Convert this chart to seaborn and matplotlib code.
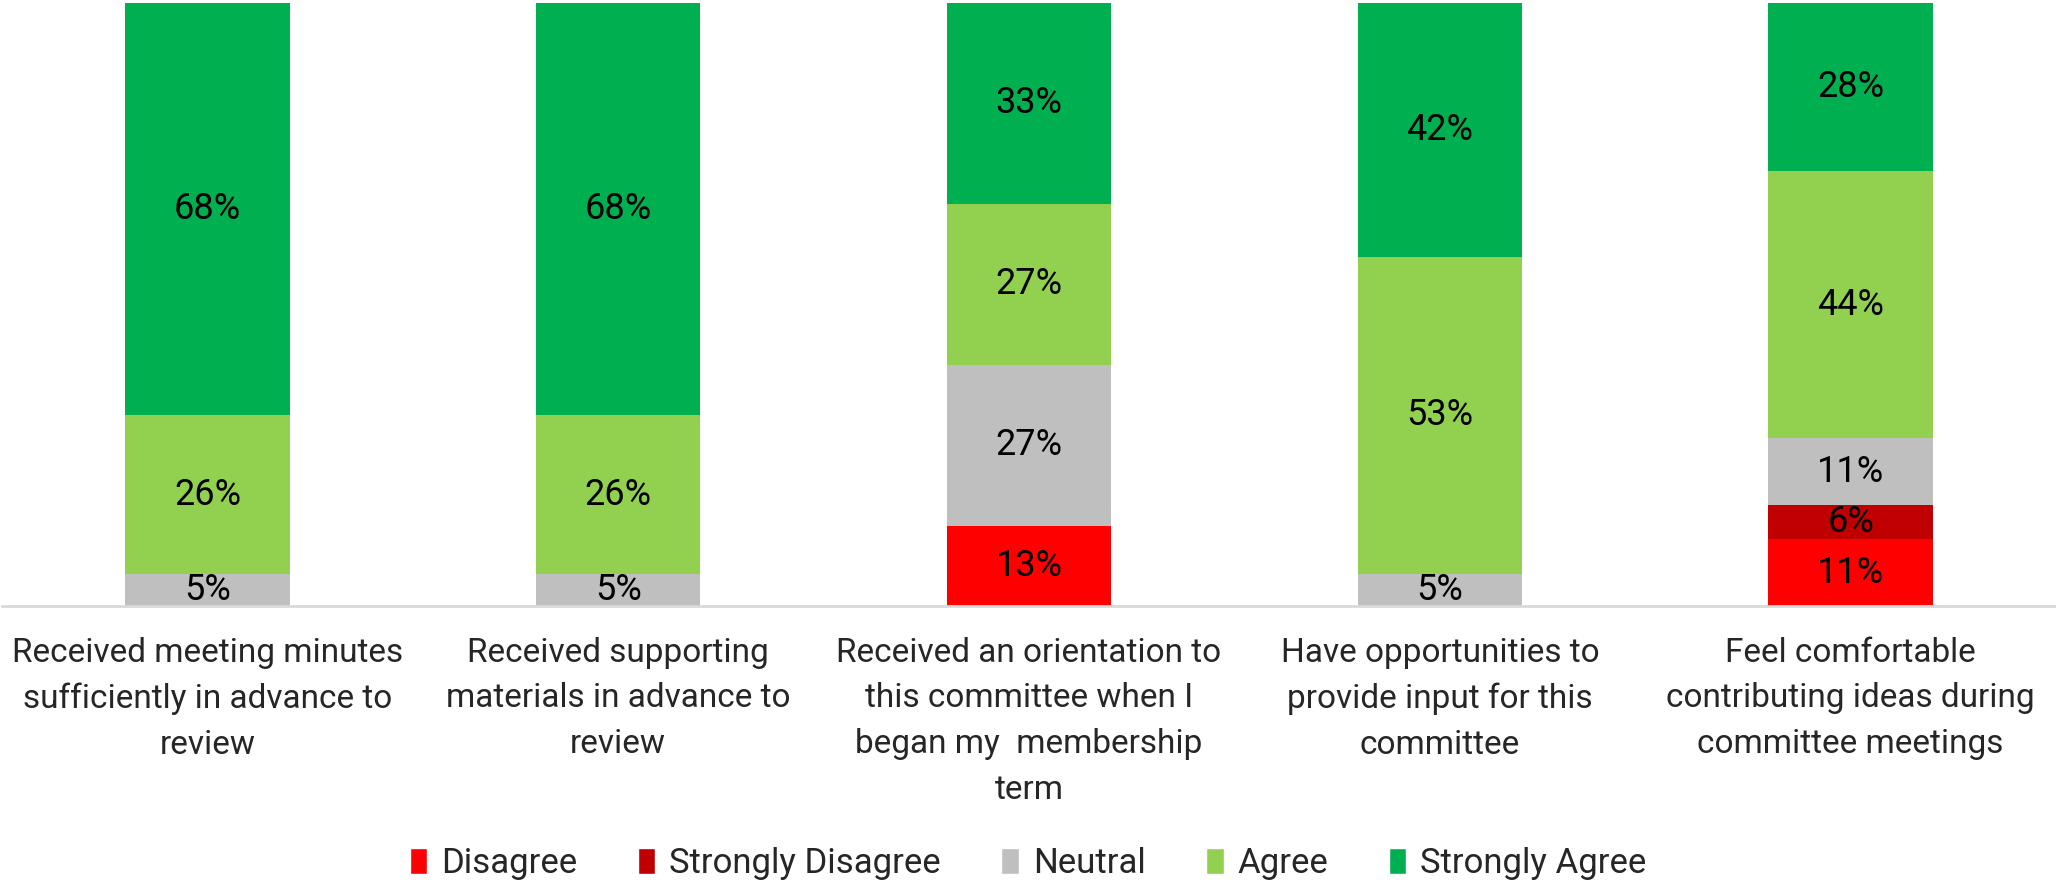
import matplotlib
matplotlib.use("Agg")
import matplotlib.pyplot as plt
from matplotlib.patches import Patch
import numpy as np
import pandas as pd
import seaborn as sns

# survey questions (x categories)
questions = ["Received meeting minutes\nsufficiently in advance to\nreview",
             "Received supporting\nmaterials in advance to\nreview",
             "Received an orientation to\nthis committee when I\nbegan my  membership\nterm",
             "Have opportunities to\nprovide input for this\ncommittee",
             "Feel comfortable\ncontributing ideas during\ncommittee meetings"]

# responses, stacked bottom to top
responses = ["Disagree", "Strongly Disagree", "Neutral", "Agree", "Strongly Agree"]
colors = ["#FF0000", "#C00000", "#BFBFBF", "#92D050", "#00B050"]

# percent of respondents
disagree = [0, 0, 13.3, 0, 11.1]
strongly_disagree = [0, 0, 0, 0, 5.6]
neutral = [5.3, 5.3, 26.7, 5.3, 11.1]
agree = [26.3, 26.3, 26.7, 52.6, 44.4]
strongly_agree = [68.4, 68.4, 33.3, 42.1, 27.8]

df = pd.DataFrame({"Question": questions,
                   "Disagree": disagree,
                   "Strongly Disagree": strongly_disagree,
                   "Neutral": neutral,
                   "Agree": agree,
                   "Strongly Agree": strongly_agree})

cum = df[responses].cumsum(axis=1)
bottoms = cum.shift(1, axis=1).fillna(0)

sns.set_style("white")
plt.rcParams['font.family'] = ['Roboto', 'DejaVu Sans']

fig = plt.figure(figsize=(20.56, 8.83), dpi=100)
ax = fig.add_axes([0.001, 0.3137, 0.999, 0.6829])

# draw cumulative totals, tallest first, so each segment shows
for resp, col in reversed(list(zip(responses, colors))):
    sns.barplot(x=df["Question"], y=cum[resp], color=col, width=0.4,
                saturation=1, ax=ax, linewidth=0)

# percent labels in the middle of each segment
for resp in responses:
    for i in range(len(questions)):
        v = df[resp][i]
        if v > 0:
            ax.text(i, bottoms[resp][i] + v / 2, f"{v:.0f}%", ha="center", va="center",
                    fontsize=26, color="black")

ax.set_xlim(-0.5, len(questions) - 0.5)
ax.set_ylim(0, 100)
ax.set_xlabel("")
ax.set_ylabel("")
ax.set_yticks([])
for s in ["top", "left", "right"]:
    ax.spines[s].set_visible(False)
ax.spines["bottom"].set_color("#D9D9D9")
ax.spines["bottom"].set_linewidth(2)
ax.tick_params(axis="x", length=0, pad=22, labelsize=24)
plt.setp(ax.get_xticklabels(), linespacing=1.55)

handles = [Patch(facecolor=c, label=r) for r, c in zip(responses, colors)]
fig.legend(handles=handles, loc="center", bbox_to_anchor=(0.5, 0.022), ncol=5, frameon=False,
           fontsize=25, handlelength=0.5, handleheight=0.75, handletextpad=0.4, columnspacing=1.75)

plt.savefig("out.png", dpi=100)
